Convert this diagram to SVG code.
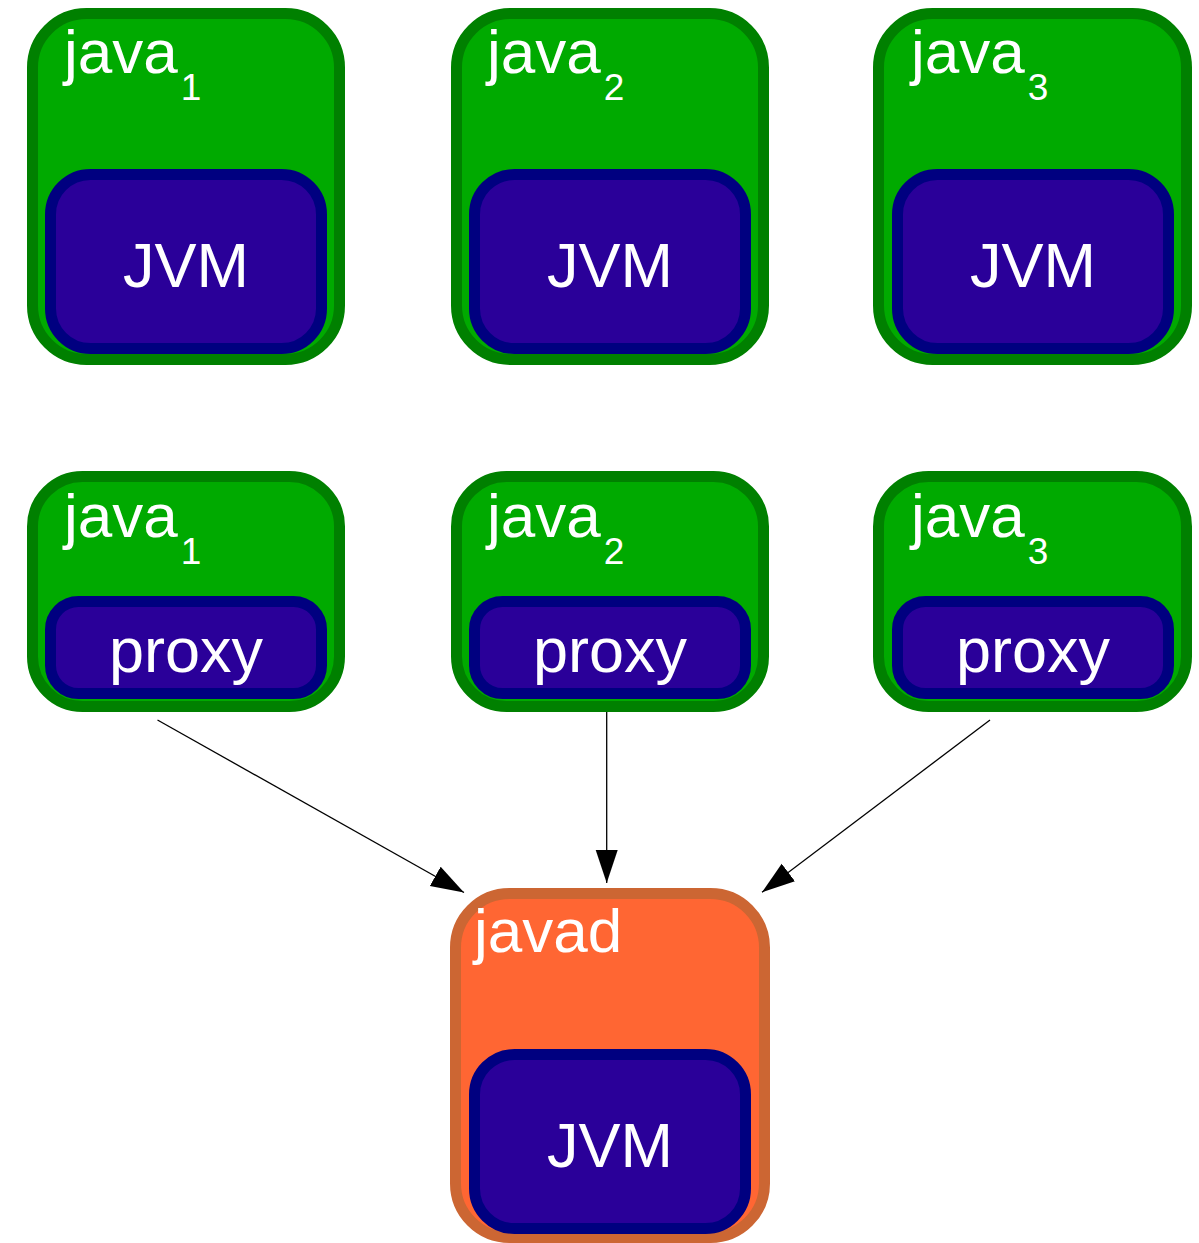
<svg xmlns="http://www.w3.org/2000/svg" width="1199" height="1243" viewBox="0 0 1199 1243">
  <style>
    .proc { fill: #00AA00; stroke: #008000; stroke-width: 11; }
    .daemon { fill: #FF6633; stroke: #CC6633; stroke-width: 11; }
    .vm { fill: #2A0099; stroke: #000080; stroke-width: 11; }
    text { font-family: "Liberation Sans", Arial, sans-serif; fill: #FFFFFF; }
    .title { font-size: 62px; }
    .sub { font-size: 37px; }
    .inner { font-size: 63px; text-anchor: middle; }
    .edge { stroke: #000000; stroke-width: 1.3; fill: none; marker-end: url(#arrow); }
  </style>
  <defs>
    <marker id="arrow" markerUnits="userSpaceOnUse" markerWidth="34" markerHeight="24" refX="33" refY="11" orient="auto">
      <path d="M0,0 L33,11 L0,22 Z" fill="#000000"/>
    </marker>
  </defs>

  <rect width="1199" height="1243" fill="#FFFFFF"/>

  <!-- top row: java processes, each running its own JVM -->
  <g id="java1-jvm">
    <rect class="proc" x="32.5" y="13.5" width="307" height="346" rx="54"/>
    <rect class="vm" x="50.5" y="174.5" width="271" height="174" rx="40"/>
    <text class="title" x="64" y="73">java<tspan class="sub" dx="3" dy="27">1</tspan></text>
    <text class="inner" x="186" y="287">JVM</text>
  </g>
  <g id="java2-jvm">
    <rect class="proc" x="456.5" y="13.5" width="307" height="346" rx="54"/>
    <rect class="vm" x="474.5" y="174.5" width="271" height="174" rx="40"/>
    <text class="title" x="487" y="73">java<tspan class="sub" dx="3" dy="27">2</tspan></text>
    <text class="inner" x="610" y="287">JVM</text>
  </g>
  <g id="java3-jvm">
    <rect class="proc" x="878.5" y="13.5" width="308" height="346" rx="54"/>
    <rect class="vm" x="897.5" y="174.5" width="271" height="174" rx="40"/>
    <text class="title" x="911" y="73">java<tspan class="sub" dx="3" dy="27">3</tspan></text>
    <text class="inner" x="1033" y="287">JVM</text>
  </g>

  <!-- middle row: java processes as thin proxies -->
  <g id="java1-proxy">
    <rect class="proc" x="32.5" y="476.5" width="307" height="230" rx="50"/>
    <rect class="vm" x="50.5" y="601.5" width="271" height="92" rx="28"/>
    <text class="title" x="64" y="537">java<tspan class="sub" dx="3" dy="27">1</tspan></text>
    <text class="inner" x="186" y="672">proxy</text>
  </g>
  <g id="java2-proxy">
    <rect class="proc" x="456.5" y="476.5" width="307" height="230" rx="50"/>
    <rect class="vm" x="474.5" y="601.5" width="271" height="92" rx="28"/>
    <text class="title" x="487" y="537">java<tspan class="sub" dx="3" dy="27">2</tspan></text>
    <text class="inner" x="610" y="672">proxy</text>
  </g>
  <g id="java3-proxy">
    <rect class="proc" x="878.5" y="476.5" width="308" height="230" rx="50"/>
    <rect class="vm" x="897.5" y="601.5" width="271" height="92" rx="28"/>
    <text class="title" x="911" y="537">java<tspan class="sub" dx="3" dy="27">3</tspan></text>
    <text class="inner" x="1033" y="672">proxy</text>
  </g>

  <!-- shared daemon hosting the single JVM -->
  <g id="javad">
    <rect class="daemon" x="455.5" y="893.5" width="309" height="344" rx="54"/>
    <rect class="vm" x="474.5" y="1054.5" width="271" height="174" rx="40"/>
    <text class="title" x="474" y="952">javad</text>
    <text class="inner" x="610" y="1167">JVM</text>
  </g>

  <!-- proxies forward to the daemon -->
  <g id="connectors">
    <line class="edge" x1="157.5" y1="720" x2="464" y2="892.5"/>
    <line class="edge" x1="606.7" y1="712" x2="606.7" y2="883"/>
    <line class="edge" x1="990" y1="720" x2="762" y2="892.3"/>
  </g>
</svg>
